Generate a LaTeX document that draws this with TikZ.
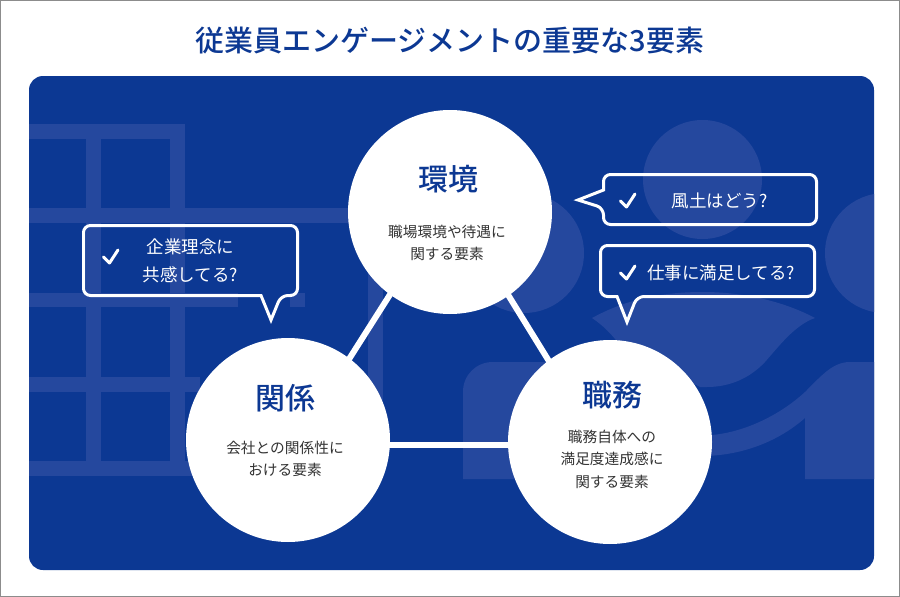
\documentclass[tikz,border=0pt]{standalone}
\usepackage{fontspec}
\setmainfont{Noto Sans CJK JP}
\newfontfamily\medfont{Noto Sans CJK JP Medium}
\usepackage{tikz}
\usetikzlibrary{positioning, backgrounds}
\definecolor{panelblue}{HTML}{0C3893}
\definecolor{decoblue}{HTML}{25489E}
\definecolor{bodygray}{HTML}{333333}
\tikzstyle{element} = [circle, minimum size=204pt, inner sep=0pt, fill=white]
\tikzstyle{elemtitle} = [inner sep=0pt, text=panelblue, font=\fontsize{30}{34}\selectfont\medfont]
\tikzstyle{elembody} = [inner sep=0pt, align=center, text=bodygray, font=\fontsize{14.7}{22.5}\selectfont]
\tikzstyle{link} = [white, line width=6pt, shorten <=-3pt, shorten >=-3pt]
\tikzstyle{bubble} = [white, line width=3pt, line join=miter]
\tikzstyle{tick} = [white, line width=3pt, line cap=round, line join=round]
\tikzstyle{asktext} = [inner sep=0pt, align=center, text=white, font=\fontsize{17.5}{28}\selectfont]
\tikzstyle{deco} = [fill=decoblue]

\begin{document}
\begin{tikzpicture}[x=1pt, y=-1pt]
\useasboundingbox (0,0) rectangle (900,597);

\node (kankyo) [element] at (450,212) {};
\node (kankei) [element] at (288,440) {};
\node (shokumu) [element] at (610,442) {};

\node (maintitle) [inner sep=0pt, text=panelblue, font=\fontsize{29}{34}\selectfont\medfont] at (450,41) {従業員エンゲージメントの重要な3要素};

\node (kankyotitle) [elemtitle] at ([shift={(-2,-33)}]kankyo.center) {環境};
\node (kankyobody) [elembody] at ([shift={(-3,31)}]kankyo.center) {職場環境や待遇に\\関する要素};
\node (kankeititle) [elemtitle] at ([shift={(-3,-42)}]kankei.center) {関係};
\node (kankeibody) [elembody] at ([shift={(-3,19)}]kankei.center) {会社との関係性に\\おける要素};
\node (shokumutitle) [elemtitle] at ([shift={(2,-47)}]shokumu.center) {職務};
\node (shokumubody) [elembody] at ([shift={(2,17)}]shokumu.center) {職務自体への\\満足度達成感に\\関する要素};

\begin{pgfonlayer}{background}
\draw [gray!90, line width=1.5pt, fill=white] (0.5,0.5) rectangle (899.5,596.5);
\fill [panelblue, rounded corners=14pt] (29,76) rectangle (874,570);
\begin{scope}
\clip [rounded corners=14pt] (29,76) rectangle (874,570);
% building
\fill [deco] (29,124) rectangle (185,139);
\fill [deco] (29,208) rectangle (360,223);
\fill [deco] (29,293) rectangle (238,307);
\fill [deco] (290,293) rectangle (305,307);
\fill [deco] (29,377) rectangle (200,392);
\fill [deco] (29,461) rectangle (200,476);
\fill [deco] (86,124) rectangle (101,476);
\fill [deco] (170,124) rectangle (185,476);
\fill [deco] (368,260) rectangle (383,400);
% people
\fill [deco] (524,253) circle (60);
\fill [deco] (702.5,179.5) circle (59.5);
\fill [deco] (885,253) circle (60);
\fill [deco] (592,318) .. controls (625,300) and (660,292) .. (703,292) .. controls (745,292) and (785,302) .. (815,318) .. controls (795,325) and (780,345) .. (765,362) .. controls (750,378) and (730,387) .. (707,387) -- (700,387) -- (620,345) .. controls (612,335) and (604,326) .. (592,318) -- cycle;
\fill [deco] (463,479) -- (463,392) .. controls (463,375) and (476,362) .. (493,362) -- (620,362) -- (705,436) -- (712,435) .. controls (745,432) and (780,415) .. (805,392) .. controls (822,375) and (833,362) .. (850,362) -- (880,362) -- (880,479) -- (805,479) -- (805,418) .. controls (780,440) and (745,455) .. (705,456) -- (660,479) -- cycle;
\end{scope}
\draw [link] (kankyo.234.3) -- (kankei.53.2);
\draw [link] (kankyo.-55.7) -- (shokumu.127);
\draw [link] (kankei.-3.37) -- (kankei.-3.37 -| shokumu.west);
\end{pgfonlayer}

\draw [bubble] (603.5,190) [rounded corners=7pt] -- (603.5,174.5) -- (816.5,174.5) -- (816.5,224.5) -- (603.5,224.5) -- (603.5,208) [sharp corners] -- (578,200) -- cycle;
\draw [tick] (620.5,201) -- (626.5,207) -- (635,194);
\node (askfudo) [asktext] at (719.5,201) {風土はどう?};

\draw [bubble] (617,296.5) [rounded corners=7pt] -- (600.5,296.5) -- (600.5,245.5) -- (814.5,245.5) -- (814.5,296.5) -- (637,296.5) [sharp corners] -- (627,322) -- cycle;
\draw [tick] (620.5,273) -- (626.5,279) -- (635,266);
\node (askshigoto) [asktext] at (721,273) {仕事に満足してる?};

\draw [bubble] (261,295.5) [rounded corners=7pt] -- (83.5,295.5) -- (83.5,225.5) -- (297.5,225.5) -- (297.5,295.5) -- (281,295.5) [sharp corners] -- (271,320) -- cycle;
\draw [tick] (103.5,257) -- (109.5,263) -- (118,250);
\node (askrinen) [asktext] at (190.5,261) {企業理念に\\共感してる?};

\end{tikzpicture}
\end{document}
